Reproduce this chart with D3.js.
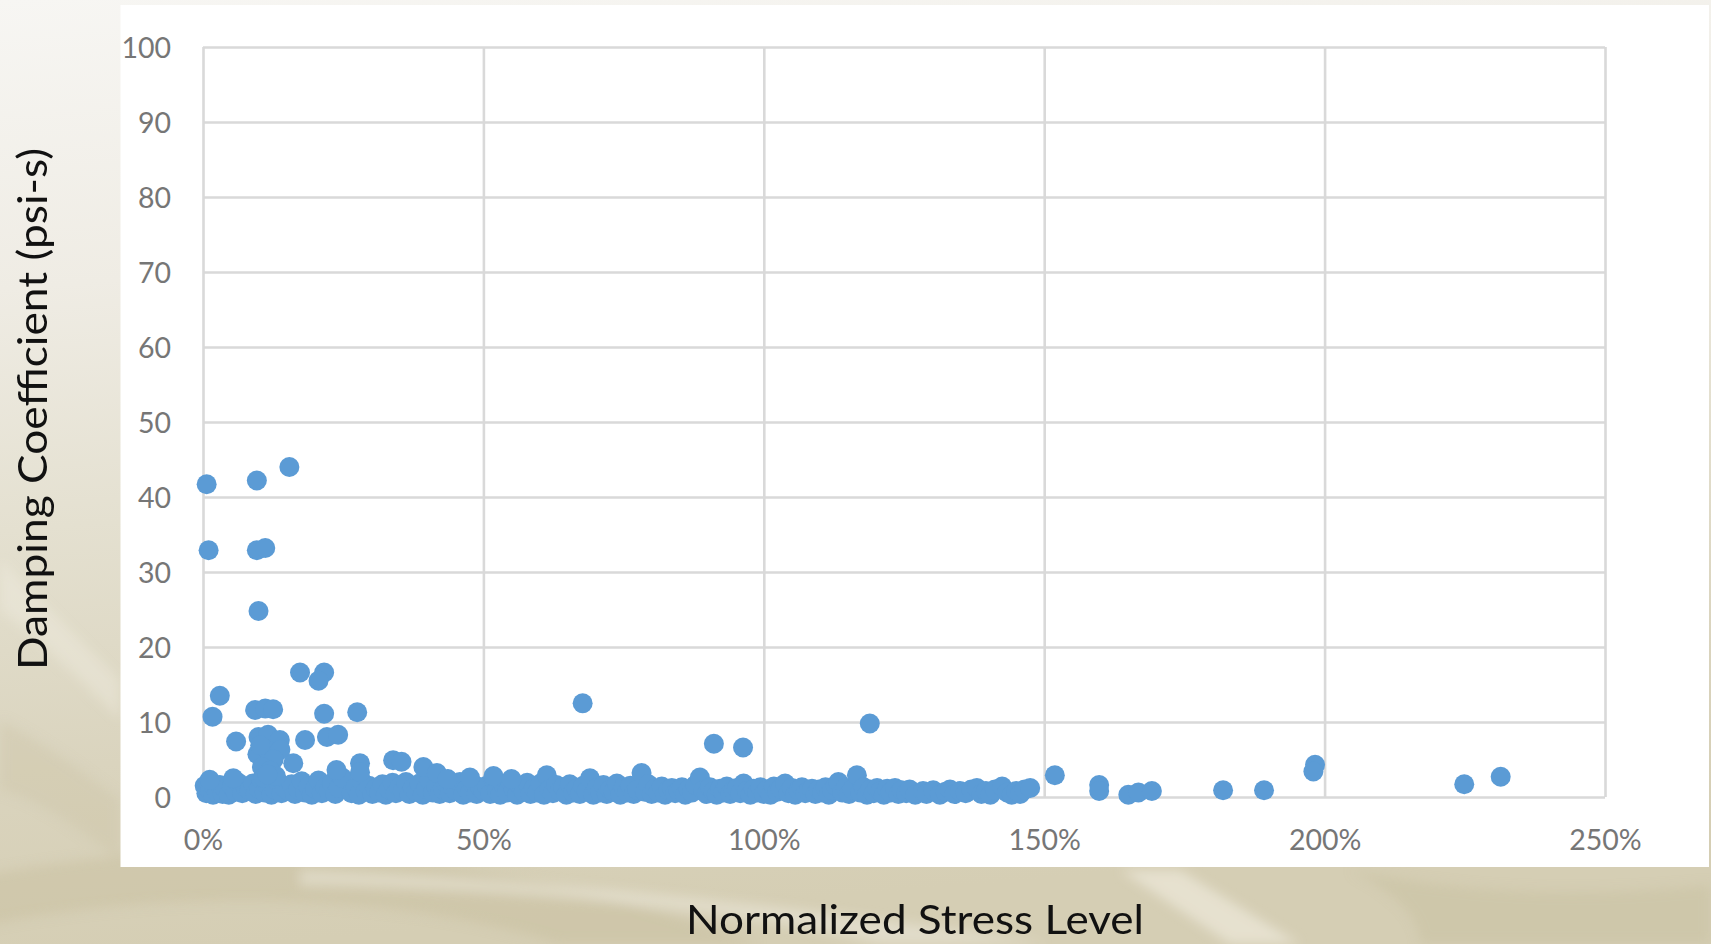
<!DOCTYPE html>
<html>
<head>
<meta charset="utf-8">
<script src="https://cdn.jsdelivr.net/npm/d3@7"></script>
<style>
  html, body { margin: 0; padding: 0; overflow: hidden; background: #e9e5d9; }
  svg { display: block; }
</style>
</head>
<body>
<svg id="chart" width="1711" height="944"></svg>
<script>
// Axis ticks
const xTickValues = [0, 50, 100, 150, 200, 250];           // normalized stress, %
const yTickValues = [0, 10, 20, 30, 40, 50, 60, 70, 80, 90, 100]; // psi-s

// Measurements lying close to zero damping (stress %, damping psi-s)
const bandStress = [
  0.3, 0.6, 1.0, 1.3, 1.8, 2.2, 2.6, 3.0, 3.5, 4.0, 4.6, 5.2, 5.8, 6.3, 7.0, 7.6, 8.3, 8.9, 9.4, 10.0,
  10.4, 11.0, 11.6, 12.2, 12.8, 13.4, 14.0, 14.6, 15.2, 15.8, 16.4, 17.0, 17.6, 18.2, 18.8, 19.4, 20.0, 20.6, 21.2, 21.8,
  22.4, 23.0, 23.6, 24.2, 24.8, 26.5, 27.2, 27.8, 28.4, 29.0, 29.6, 30.2, 30.8, 31.4, 32.0, 32.6, 33.2, 33.8, 34.4, 35.0,
  35.6, 36.2, 36.8, 37.4, 38.0, 38.6, 39.2, 39.8, 40.4, 41.0, 41.6, 42.2, 42.8, 43.4, 44.0, 44.6, 45.2, 45.8, 46.4, 47.0,
  47.6, 48.2, 48.8, 49.4, 50.0, 50.6, 51.2, 51.8, 52.4, 53.0, 53.6, 54.2, 54.8, 55.4, 56.0, 56.6, 57.2, 57.8, 58.4, 59.0,
  59.6, 60.2, 60.8, 61.3, 61.8, 62.4, 63.0, 63.6, 64.2, 64.8, 65.4, 66.0, 66.6, 67.2, 67.8, 68.4, 69.0, 69.6, 70.2, 70.8,
  71.4, 72.0, 72.6, 73.2, 73.8, 74.4, 75.0, 75.6, 76.2, 76.8, 77.4, 78.2, 78.8, 79.4, 80.0, 80.6, 81.2, 81.8, 82.4, 83.0,
  83.6, 84.2, 84.8, 85.4, 86.0, 86.6, 87.2, 87.8, 88.6, 89.2, 89.8, 90.4, 91.0, 91.6, 92.2, 92.8, 93.4, 94.0, 94.6, 95.2,
  95.8, 96.4, 97.0, 97.6, 98.2, 98.8, 99.4, 100.0, 100.6, 101.2, 101.8, 102.4, 103.0, 103.8, 104.4, 105.0, 105.6, 106.2, 106.8, 107.4,
  108.0, 108.6, 109.2, 109.8, 110.4, 111.0, 111.6, 112.2, 112.8, 113.3, 114.0, 114.6, 115.2, 115.8, 116.6, 117.2, 117.8, 118.4, 119.0, 119.6,
  120.2, 120.8, 121.4, 122.0, 122.6, 123.4, 124.0, 124.6, 125.4, 126.0, 127.0, 128.4, 129.0, 130.2, 131.4, 132.4, 133.2, 134.0, 135.0, 136.0,
  137.0, 138.0, 138.8, 139.6, 140.4, 141.2, 142.5, 143.4, 144.2, 145.0, 145.7, 146.5, 147.5
];
const bandDamping = [
  1.5, 0.5, 1.9, 0.8, 0.3, 1.2, 0.6, 1.6, 0.4, 1.0, 0.3, 1.4, 0.7, 1.9, 0.5, 1.3, 0.9, 1.8, 0.4, 1.1,
  2.3, 0.6, 1.5, 0.3, 1.0, 2.0, 0.5, 1.2, 0.8, 1.7, 0.4, 1.0, 2.1, 0.6, 1.4, 0.3, 1.1, 2.2, 0.5, 1.3,
  0.8, 1.9, 0.4, 1.2, 2.6, 0.5, 1.3, 0.3, 2.0, 0.8, 1.5, 0.4, 1.1, 0.6, 1.7, 0.3, 1.0, 1.9, 0.5, 1.3,
  0.8, 2.0, 0.4, 1.2, 0.7, 1.8, 0.3, 1.1, 2.2, 0.6, 1.4, 0.4, 1.0, 1.8, 0.5, 1.2, 0.8, 2.0, 0.3, 1.1,
  0.6, 1.7, 0.4, 1.3, 0.8, 1.5, 0.4, 2.4, 0.9, 0.3, 1.6, 0.6, 2.1, 1.0, 0.3, 1.4, 0.7, 1.9, 0.4, 1.2,
  0.6, 1.8, 0.3, 2.9, 1.0, 0.5, 1.6, 0.8, 1.3, 0.3, 1.7, 0.6, 1.1, 0.4, 1.5, 0.8, 2.5, 0.3, 1.2, 0.6,
  1.6, 0.4, 1.0, 0.7, 1.8, 0.3, 1.3, 0.6, 1.5, 0.4, 1.0, 3.2, 0.7, 1.7, 0.4, 1.1, 0.6, 1.4, 0.3, 0.9,
  1.2, 0.5, 0.8, 1.3, 0.3, 1.0, 0.6, 1.6, 2.6, 0.9, 0.4, 1.3, 0.7, 0.3, 1.1, 0.6, 1.4, 0.4, 0.9, 1.2,
  0.5, 1.8, 0.8, 0.3, 1.1, 0.6, 1.3, 0.4, 1.0, 0.3, 1.4, 0.7, 1.1, 1.8, 0.5, 1.2, 0.3, 0.9, 1.3, 0.5,
  0.8, 1.1, 0.4, 1.0, 0.6, 1.3, 0.3, 0.9, 1.5, 2.0, 0.6, 1.2, 0.4, 1.0, 2.9, 0.6, 1.3, 0.3, 1.0, 0.5,
  1.2, 0.8, 0.3, 1.1, 0.6, 1.2, 0.4, 0.9, 0.5, 1.0, 0.3, 0.8, 0.4, 0.9, 0.3, 0.7, 1.0, 0.4, 0.8, 0.5,
  1.0, 1.2, 0.4, 0.8, 0.3, 1.0, 1.4, 0.6, 0.3, 0.8, 0.4, 1.0, 1.2
];

// Measurements standing out from the near-zero band
const spreadStress = [
  0.65, 9.6, 15.4, 1.0, 9.6, 11.1, 9.9,
  17.3, 21.6, 20.6, 3.0, 1.7, 9.3, 11.1, 12.5, 21.6, 27.5,
  5.9, 9.9, 11.6, 13.7, 9.7, 11.8, 13.8, 10.2, 12.6, 10.5, 12.0, 13.0, 10.8, 11.5,
  1.2, 5.4, 16.1, 18.2, 22.1, 24.1, 28.0, 28.0, 23.8, 33.9, 35.4, 39.3, 41.7, 43.6, 47.6, 51.8, 55.0,
  67.7, 91.1, 96.3, 118.9,
  151.9, 159.8, 159.8, 165.0, 166.8, 169.2, 181.9, 189.2, 198.3, 198.0, 224.9, 231.4
];
const spreadDamping = [
  41.7, 42.2, 44.0, 32.9, 32.9, 33.2, 24.8,
  16.6, 16.6, 15.5, 13.5, 10.7, 11.6, 11.8, 11.7, 11.1, 11.3,
  7.4, 8.0, 8.3, 7.6, 5.7, 6.1, 6.3, 6.9, 5.0, 4.0, 3.5, 2.8, 2.6, 3.0,
  2.3, 2.5, 4.5, 7.6, 8.0, 8.3, 4.5, 3.3, 3.6, 4.9, 4.7, 4.0, 3.2, 2.4, 2.6, 2.8, 2.4,
  12.5, 7.1, 6.6, 9.8,
  2.9, 1.6, 0.8, 0.3, 0.6, 0.8, 0.9, 0.9, 4.3, 3.4, 1.7, 2.7
];

const points = bandStress.map((s, i) => ({ s, d: bandDamping[i] }))
  .concat(spreadStress.map((s, i) => ({ s, d: spreadDamping[i] })));

const W = 1711, H = 944;
const plot = { left: 203, right: 1605, top: 47, bottom: 797 };

const svg = d3.select("#chart");

// ---- slide background: soft beige marble with sweeping curves ----
const defs = svg.append("defs");
const bg = defs.append("linearGradient").attr("id", "bgGrad")
  .attr("x1", 0).attr("y1", 0).attr("x2", 0.15).attr("y2", 1);
[["0%", "#f7f6f3"], ["30%", "#efece4"], ["55%", "#e4e0d0"], ["80%", "#dad4be"], ["100%", "#d5ceb4"]]
  .forEach(([o, c]) => bg.append("stop").attr("offset", o).attr("stop-color", c));
defs.append("filter").attr("id", "soft").attr("x", "-20%").attr("y", "-20%").attr("width", "140%").attr("height", "140%")
  .append("feGaussianBlur").attr("stdDeviation", 6);

svg.append("rect").attr("width", W).attr("height", H).attr("fill", "url(#bgGrad)");

const swirl = svg.append("g").attr("filter", "url(#soft)");
swirl.append("path")
  .attr("d", "M-40,880 C250,820 520,860 760,944 L560,944 C420,900 200,880 -40,930 Z")
  .attr("fill", "#c6bc9b").attr("opacity", 0.4);
swirl.append("path")
  .attr("d", "M300,870 C600,880 900,920 1050,944 L880,944 C760,915 560,890 300,885 Z")
  .attr("fill", "#f6f3ea").attr("opacity", 0.4);
swirl.append("path")
  .attr("d", "M1180,870 L1300,944 L1230,944 L1120,870 Z")
  .attr("fill", "#f4f1e6").attr("opacity", 0.55);
swirl.append("path")
  .attr("d", "M1350,870 C1450,890 1560,900 1711,885 L1711,944 L1420,944 C1420,920 1400,895 1350,870 Z")
  .attr("fill", "#c4ba98").attr("opacity", 0.35);
swirl.append("path")
  .attr("d", "M0,560 C40,600 80,640 120,680 L120,720 C80,680 40,640 0,610 Z")
  .attr("fill", "#f3f0e6").attr("opacity", 0.35);
swirl.append("path")
  .attr("d", "M0,720 C40,740 80,770 120,800 L120,860 C80,830 40,800 0,790 Z")
  .attr("fill", "#cbc3a4").attr("opacity", 0.35);

// ---- white chart panel ----
svg.append("rect")
  .attr("x", 120.5).attr("y", 5).attr("width", 1709 - 120.5).attr("height", 867 - 5)
  .attr("fill", "#ffffff");

// ---- scales ----
const x = d3.scaleLinear().domain([0, 250]).range([plot.left, plot.right]);
const y = d3.scaleLinear().domain([0, 100]).range([plot.bottom, plot.top]);

const gridColor = "#d9d9d9";
const labelFont = "Lato, 'Open Sans', sans-serif";

// horizontal gridlines + y labels
const yAxis = svg.append("g")
  .attr("transform", `translate(${plot.left},0)`)
  .call(d3.axisLeft(y).tickValues(yTickValues).tickSize(-(plot.right - plot.left)).tickPadding(32).tickFormat(d3.format("d")));
yAxis.select(".domain").remove();
yAxis.selectAll("line").attr("stroke", gridColor).attr("stroke-width", 2.6);
yAxis.selectAll("text")
  .attr("fill", "#767676").attr("font-family", labelFont).attr("font-size", 28.5).attr("dy", "0.36em");

// vertical gridlines + x labels
const xAxis = svg.append("g")
  .attr("transform", `translate(0,${plot.bottom})`)
  .call(d3.axisBottom(x).tickValues(xTickValues).tickSize(-(plot.bottom - plot.top)).tickPadding(33).tickFormat(d => d + "%"));
xAxis.select(".domain").remove();
xAxis.selectAll("line").attr("stroke", gridColor).attr("stroke-width", 2.6);
xAxis.selectAll("text")
  .attr("fill", "#767676").attr("font-family", labelFont).attr("font-size", 28.5);

// ---- data points ----
svg.append("g")
  .selectAll("circle")
  .data(points)
  .join("circle")
  .attr("cx", d => x(d.s))
  .attr("cy", d => y(d.d))
  .attr("r", 10)
  .attr("fill", "#5b9bd5");

// ---- axis titles ----
svg.append("text")
  .attr("x", 915).attr("y", 934)
  .attr("text-anchor", "middle")
  .attr("font-family", labelFont).attr("font-size", 40).attr("fill", "#111111")
  .attr("textLength", 458).attr("lengthAdjust", "spacingAndGlyphs")
  .text("Normalized Stress Level");

svg.append("text")
  .attr("transform", "translate(47,409) rotate(-90)")
  .attr("text-anchor", "middle")
  .attr("font-family", labelFont).attr("font-size", 40).attr("fill", "#111111")
  .attr("textLength", 522).attr("lengthAdjust", "spacingAndGlyphs")
  .text("Damping Coefficient (psi-s)");
</script>
</body>
</html>
